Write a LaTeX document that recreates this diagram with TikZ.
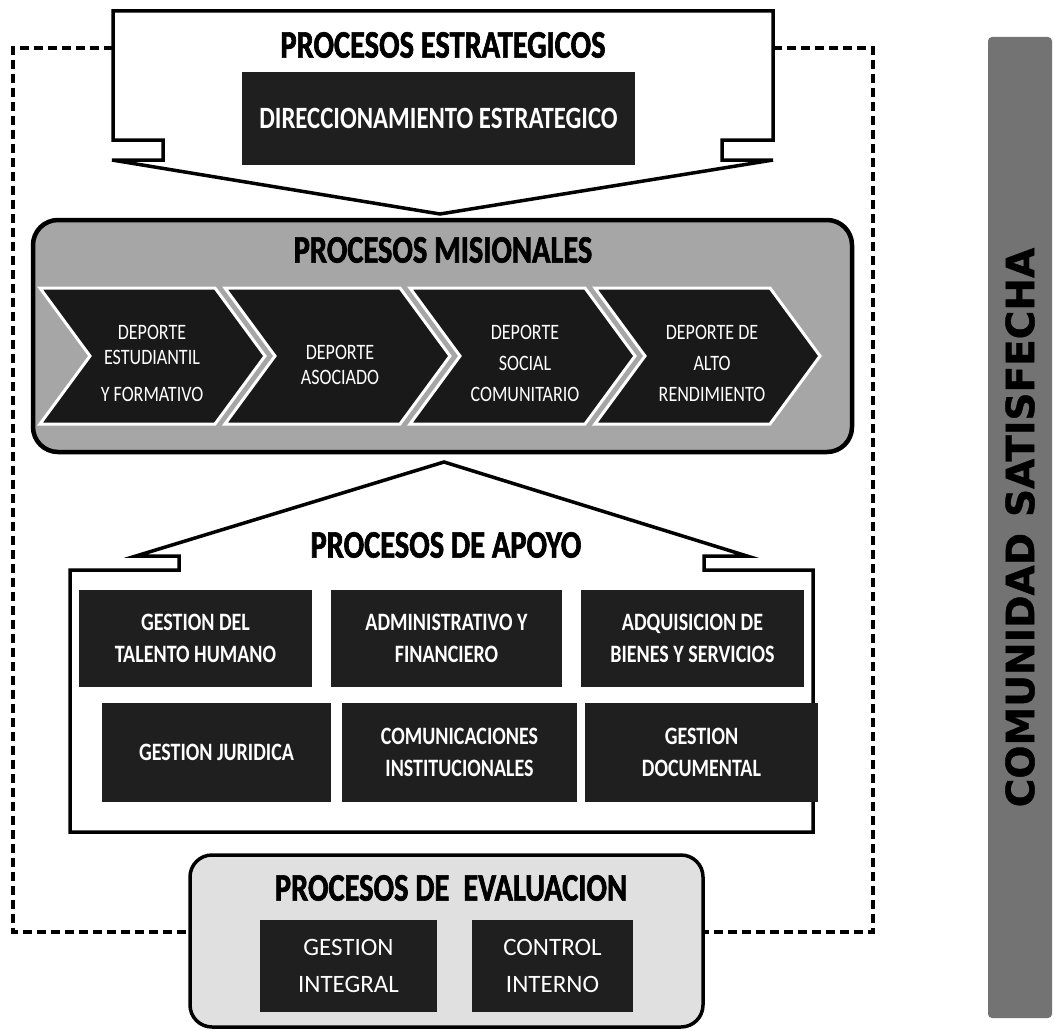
\documentclass[tikz,border=0pt]{standalone}
\usepackage{fontspec}
\setmainfont{Carlito}
\newfontfamily\condfont[FakeStretch=0.8]{Carlito}
\newfontfamily\heavyfont[FakeStretch=0.78,FakeBold=1.6]{Carlito}
\newfontfamily\narrowfont[FakeStretch=0.82]{Carlito}
\newfontfamily\barfont[FakeBold=1]{DejaVu Sans}

\begin{document}
\begin{tikzpicture}[x=1pt,y=-1pt]
\tikzstyle{callout}=[draw=black, line width=3.5pt, fill=white]
\tikzstyle{frameline}=[dash pattern=on 9pt off 5pt, line width=3.5pt]
\tikzstyle{proctitle}=[inner sep=0pt, font=\heavyfont\bfseries\fontsize{39}{39}\selectfont]
\tikzstyle{darkbox}=[fill=black!88, text=white, align=center, inner sep=0pt]
\tikzstyle{apoyobox}=[darkbox, minimum height=97pt, font=\condfont\bfseries\fontsize{25}{32}\selectfont]
\tikzstyle{evalbox}=[darkbox, minimum width=177pt, minimum height=92pt, font=\fontsize{25}{37}\selectfont]
\tikzstyle{chevron}=[fill=black!90, draw=white, line width=3pt]
\tikzstyle{chevtext}=[text=white, align=center, inner sep=0pt, font=\narrowfont\fontsize{22}{25}\selectfont]

\path[use as bounding box, fill=white] (0,0) rectangle (1054,1030);

\draw[frameline] (113,48) -- (13,48) -- (13,932) -- (190,932);
\draw[frameline] (773,48) -- (873,48) -- (873,932) -- (703,932);

\draw[callout] (113,11) -- (773,11) -- (773,140) -- (722,140) -- (722,160) -- (773,160)
  -- (440,214) -- (112,160) -- (163,160) -- (163,140) -- (113,140) -- cycle;
\node[proctitle] (estr) at (443,45) {PROCESOS ESTRATEGICOS};
\node[darkbox, minimum width=393pt, minimum height=93pt,
  font=\condfont\bfseries\fontsize{31}{31}\selectfont] (dir) at (438.5,118.5) {DIRECCIONAMIENTO ESTRATEGICO};

\node[draw=black, line width=4.5pt, fill=black!35, rounded corners=25pt,
  minimum width=819pt, minimum height=232pt] (mis) at (442.5,336) {};
\node[proctitle] (mistitle) at (443,250) {PROCESOS MISIONALES};

\draw[chevron] (40,288) -- ++(175,0) -- ++(50,68) -- ++(-50,68) -- ++(-175,0) -- ++(50,-68) -- cycle;
\draw[chevron] (225,288) -- ++(175,0) -- ++(50,68) -- ++(-50,68) -- ++(-175,0) -- ++(50,-68) -- cycle;
\draw[chevron] (410,288) -- ++(175,0) -- ++(50,68) -- ++(-50,68) -- ++(-175,0) -- ++(50,-68) -- cycle;
\draw[chevron] (595,288) -- ++(175,0) -- ++(50,68) -- ++(-50,68) -- ++(-175,0) -- ++(50,-68) -- cycle;
\node[chevtext] (est) at (152,363) {DEPORTE\\ESTUDIANTIL\\[12pt]Y FORMATIVO};
\node[chevtext] (aso) at (340,365) {DEPORTE\\ASOCIADO};
\node[chevtext] (soc) at (525,363) {DEPORTE\\[6pt]SOCIAL\\[6pt]COMUNITARIO};
\node[chevtext] (alto) at (712,363) {DEPORTE DE\\[6pt]ALTO\\[6pt]RENDIMIENTO};

\draw[callout] (444,462) -- (747,556) -- (704,556) -- (704,570) -- (813,570) -- (813,832)
  -- (70,832) -- (70,570) -- (179,570) -- (179,556) -- (136,556) -- cycle;
\node[proctitle] (apoyo) at (446,545) {PROCESOS DE APOYO};

\node[apoyobox, minimum width=233pt] (talento) at (195.5,638.5) {GESTION DEL\\TALENTO HUMANO};
\node[apoyobox, minimum width=231pt] (admin) at (446.5,638.5) {ADMINISTRATIVO Y\\FINANCIERO};
\node[apoyobox, minimum width=223pt] (bienes) at (692.5,638.5) {ADQUISICION DE\\BIENES Y SERVICIOS};
\node[apoyobox, minimum width=229pt, minimum height=99pt] (juridica) at (216.5,752.5) {GESTION JURIDICA};
\node[apoyobox, minimum width=235pt, minimum height=99pt] (comun) at (459.5,752.5) {COMUNICACIONES\\INSTITUCIONALES};
\node[apoyobox, minimum width=233pt, minimum height=99pt] (docum) at (701.5,752.5) {GESTION\\DOCUMENTAL};

\node[draw=black, line width=3.5pt, fill=black!12, rounded corners=22pt,
  minimum width=513pt, minimum height=172pt] (eval) at (446.5,941) {};
\node[proctitle] (evaltitle) at (451,888) {PROCESOS DE\hspace{14pt}EVALUACION};
\node[evalbox] (integral) at (348.5,966) {GESTION\\INTEGRAL};
\node[evalbox, minimum width=161pt] (control) at (552.5,966) {CONTROL\\INTERNO};

\node[fill=black!55, rotate=90, rounded corners=4pt, minimum width=981pt, minimum height=64pt,
  inner sep=0pt, font=\barfont\bfseries\fontsize{39}{39}\selectfont] (comunidad) at (1020,527.5)
  {COMUNIDAD\hspace{16pt}SATISFECHA};

\end{tikzpicture}
\end{document}
